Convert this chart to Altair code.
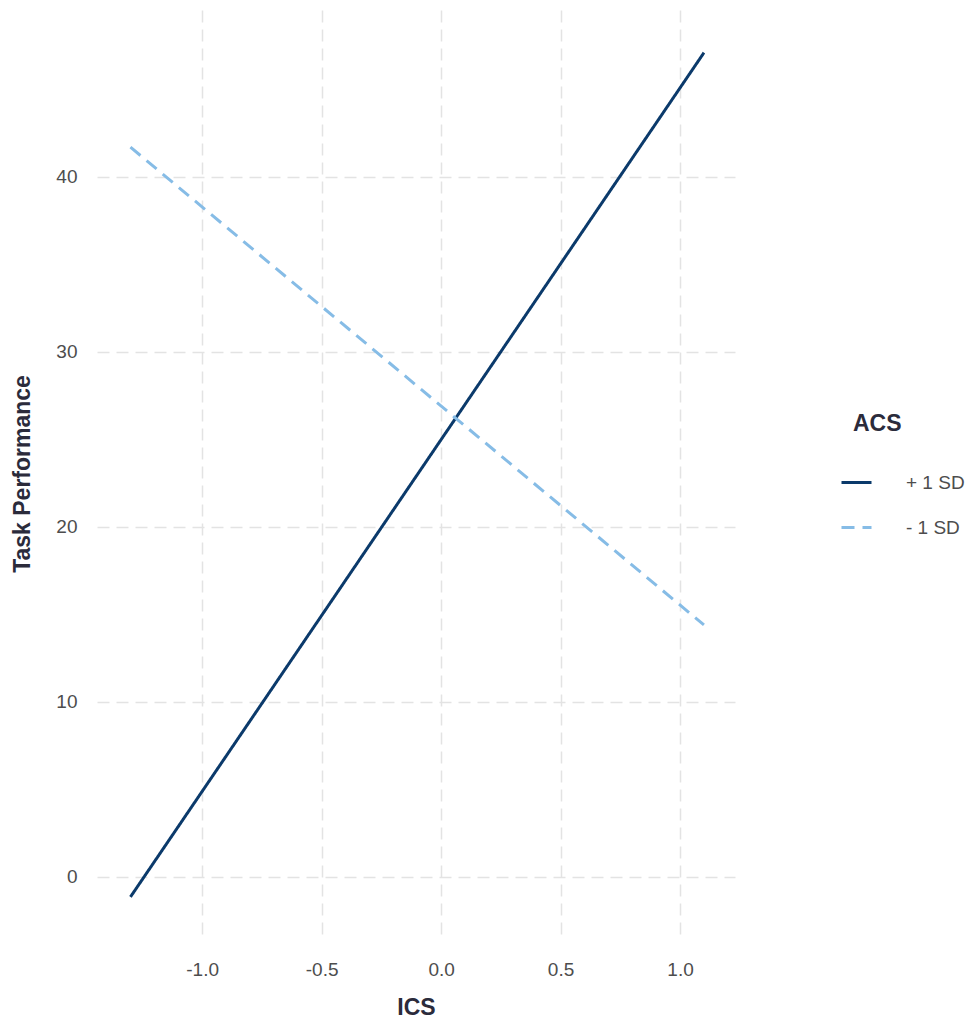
import altair as alt
import pandas as pd

# Data
series = ["+ 1 SD", "+ 1 SD", "- 1 SD", "- 1 SD"]
ics = [-1.3, 1.1, -1.3, 1.1]
perf = [-1.14, 47.1, 41.7, 14.4]

x_ticks = [-1.0, -0.5, 0.0, 0.5, 1.0]
y_ticks = [0, 10, 20, 30, 40]

df = pd.DataFrame({"ACS": series, "ICS": ics, "Task Performance": perf})

FONT = "Liberation Sans"

legend_opts = dict(
    title="ACS", orient="none", legendX=756, legendY=403,
    symbolType="stroke", symbolSize=900, symbolStrokeWidth=3,
    symbolOffset=-13, labelOffset=33, rowPadding=18,
    titlePadding=30, titleAnchor="start", labelLimit=200,
    titleFontSize=23, titleFont=FONT, titleFontWeight="bold",
    titleColor="#2b2b3b", labelFontSize=19, labelFont=FONT,
    labelColor="#4d4d4d",
)

chart = (
    alt.Chart(df)
    .mark_line(strokeWidth=3)
    .encode(
        x=alt.X(
            "ICS:Q",
            scale=alt.Scale(domain=[-1.44, 1.23], nice=False, zero=False),
            axis=alt.Axis(
                values=x_ticks, title="ICS",
                labelExpr="replace(format(datum.value, '.1f'), '\u2212', '-')",
                grid=True, domain=False, ticks=False,
                labelPadding=23, titlePadding=17,
            ),
        ),
        y=alt.Y(
            "Task Performance:Q",
            scale=alt.Scale(domain=[-3.43, 49.54], nice=False, zero=False),
            axis=alt.Axis(
                values=y_ticks, format="d", title="Task Performance",
                grid=True, domain=False, ticks=False,
                labelPadding=20, titlePadding=21,
            ),
        ),
        color=alt.Color(
            "ACS:N",
            scale=alt.Scale(domain=["+ 1 SD", "- 1 SD"], range=["#0b3a6b", "#86bce6"]),
            legend=alt.Legend(**legend_opts),
        ),
        strokeDash=alt.StrokeDash(
            "ACS:N",
            scale=alt.Scale(domain=["+ 1 SD", "- 1 SD"], range=[[1, 0], [13, 8]]),
            legend=alt.Legend(**legend_opts),
        ),
    )
    .properties(
        width=638,
        height=927,
        autosize=alt.AutoSizeParams(type="none"),
        padding={"left": 89, "top": 2, "right": 235, "bottom": 81},
    )
    .configure_view(stroke=None)
    .configure_axis(
        gridColor="#e3e3e3", gridDash=[12, 7], gridWidth=1.5,
        labelFont=FONT, labelFontSize=19, labelColor="#4d4d4d",
        titleFont=FONT, titleFontSize=23, titleFontWeight="bold", titleColor="#2b2b3b",
    )
)

chart.save("out.html", embed_options={"renderer": "svg", "actions": False})
